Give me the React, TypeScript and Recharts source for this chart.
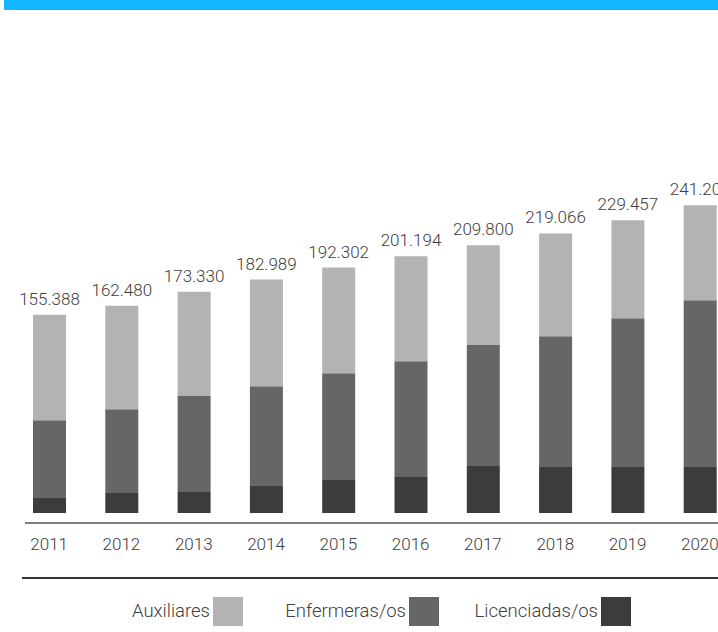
import React from 'react'
import { BarChart, Bar, XAxis, YAxis, LabelList } from 'recharts'

// Datos por año (personal de enfermería)
const years = ['2011', '2012', '2013', '2014', '2015', '2016', '2017', '2018', '2019', '2020']
const licenciadas = [11700, 15600, 16400, 21100, 25800, 28200, 36800, 36000, 36000, 36000]
const enfermeras = [61000, 65800, 75200, 78300, 83800, 90800, 94800, 102600, 116700, 130800]
const totals = [155388, 162480, 173330, 182989, 192302, 201194, 209800, 219066, 229457, 241200]

const data = years.map((year, i) => ({
  year,
  licenciadas: licenciadas[i],
  enfermeras: enfermeras[i],
  auxiliares: totals[i] - licenciadas[i] - enfermeras[i],
  total: totals[i],
}))

const COLORS = {
  auxiliares: '#b3b3b3',
  enfermeras: '#666666',
  licenciadas: '#3d3c3a',
}

const legendItems = [
  { name: 'Auxiliares', color: COLORS.auxiliares, box: 213 },
  { name: 'Enfermeras/os', color: COLORS.enfermeras, box: 409 },
  { name: 'Licenciadas/os', color: COLORS.licenciadas, box: 601 },
]

const fmt = (v: any) => String(v).replace(/\B(?=(\d{3})+(?!\d))/g, '.')

const FONT = 'Roboto, "Noto Sans", sans-serif'
const TEXT = '#404040'

export default function App() {
  return (
    <div
      style={{
        position: 'absolute',
        left: 0,
        top: 0,
        width: 718,
        height: 632,
        overflow: 'hidden',
        background: '#fff',
        fontFamily: FONT,
      }}
    >
      {/* barra azul superior */}
      <div style={{ position: 'absolute', left: 4, top: 0, width: 714, height: 10, background: '#12b8ff' }} />

      <div style={{ position: 'absolute', left: 0, top: 0 }}>
        <BarChart
          width={736}
          height={570}
          data={data}
          margin={{ top: 194, right: 0, bottom: 0, left: 13 }}
          barSize={33}
        >
          <XAxis
            dataKey="year"
            axisLine={false}
            tickLine={false}
            tickSize={0}
            tickMargin={25}
            height={57}
            interval={0}
            tick={{ fill: TEXT, fontSize: 17, fontWeight: 300, fontFamily: FONT }}
          />
          <YAxis hide domain={[0, 250000]} />
          <Bar dataKey="licenciadas" stackId="a" fill={COLORS.licenciadas} isAnimationActive={false} />
          <Bar dataKey="enfermeras" stackId="a" fill={COLORS.enfermeras} isAnimationActive={false} />
          <Bar dataKey="auxiliares" stackId="a" fill={COLORS.auxiliares} isAnimationActive={false}>
            <LabelList
              dataKey="total"
              position="top"
              offset={10}
              formatter={fmt}
              style={{ fill: TEXT, fontSize: 17, fontWeight: 300, fontFamily: FONT }}
            />
          </Bar>
        </BarChart>
      </div>

      {/* líneas horizontales */}
      <div style={{ position: 'absolute', left: 25, top: 522, width: 693, height: 2, background: '#7f7f7f' }} />
      <div style={{ position: 'absolute', left: 22, top: 577, width: 696, height: 1.5, background: '#333' }} />

      {/* leyenda */}
      {legendItems.map((item) => (
        <React.Fragment key={item.name}>
          <div
            style={{
              position: 'absolute',
              top: 598,
              right: 718 - item.box + 3,
              fontSize: 18.5,
              fontWeight: 300,
              lineHeight: '27px',
              color: TEXT,
              whiteSpace: 'nowrap',
            }}
          >
            {item.name}
          </div>
          <div
            style={{ position: 'absolute', top: 597, left: item.box, width: 30, height: 29, background: item.color }}
          />
        </React.Fragment>
      ))}
    </div>
  )
}
